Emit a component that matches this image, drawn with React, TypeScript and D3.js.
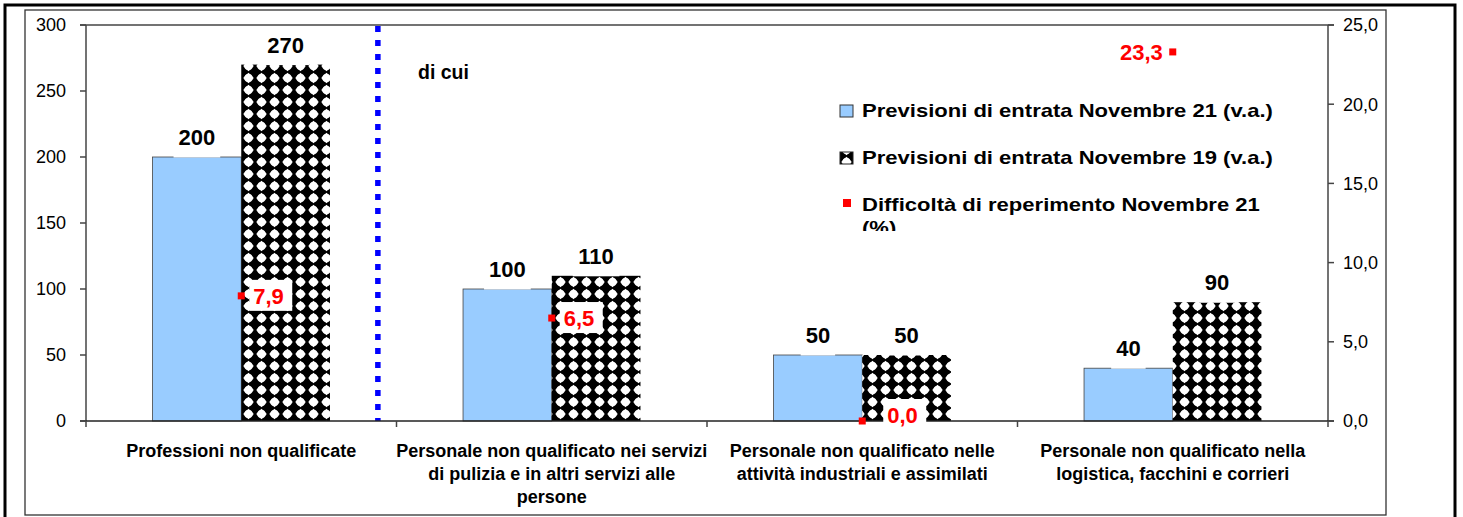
import React from "react";
import * as d3 from "d3";

const categories: string[][] = [
  ["Professioni non qualificate"],
  ["Personale non qualificato nei servizi", "di pulizia e in altri servizi alle", "persone"],
  ["Personale non qualificato nelle", "attività industriali e assimilati"],
  ["Personale non qualificato nella", "logistica, facchini e corrieri"],
];
const nov21: number[] = [200, 100, 50, 40];
const nov19: number[] = [270, 110, 50, 90];
const difficolta: number[] = [7.9, 6.5, 0.0, 23.3];
const leftTicks: number[] = [0, 50, 100, 150, 200, 250, 300];
const rightTicks: number[] = [0, 5, 10, 15, 20, 25];
const legendLabels: string[] = [
  "Previsioni di entrata Novembre 21 (v.a.)",
  "Previsioni di entrata Novembre 19 (v.a.)",
  "Difficoltà di reperimento Novembre 21",
  "(%)",
];

const W = 1463;
const H = 517;
const PL = 86, PR = 1328, PT = 25, PB = 421;
const FONT = "'Liberation Sans', Arial, Helvetica, sans-serif";
const BLUE = "#99CCFF";
const RED = "#FF0000";
const fmt = (v: number) => v.toFixed(1).replace(".", ",");

export default function App() {
  const idx = categories.map((_, i) => String(i));
  const x = d3.scaleBand<string>().domain(idx).range([PL, PR]).paddingInner(0).paddingOuter(0);
  const yL = d3.scaleLinear().domain([0, 300]).range([PB, PT]);
  const yR = d3.scaleLinear().domain([0, 25]).range([PB, PT]);
  const bw = x.bandwidth();
  const barW = bw / 3.5;
  const off = (bw * 0.75) / 3.5;
  const dividerX = (x("1") as number) - bw * 0.06;

  const valueLabel = (v: number, cx: number, key: string) => {
    const top = yL(v);
    const tw = String(v).length * 0.556 * 22;
    return (
      <g key={key}>
        <rect x={cx - tw / 2 - 5} y={top - 32} width={tw + 10} height={32.5} fill="#fff" />
        <text x={cx} y={top - 12} textAnchor="middle" fontSize={22} fontWeight="bold" fill="#000">
          {v}
        </text>
      </g>
    );
  };

  return (
    <svg
      width={W}
      height={H}
      style={{ position: "absolute", left: 0, top: 0, background: "#fff" }}
      fontFamily={FONT}
    >
      <defs>
        <pattern id="dots" patternUnits="userSpaceOnUse" width={13} height={12} x={PL} y={0}>
          <rect width={13} height={12} fill="#000" />
          <circle cx={6.5} cy={6} r={4.3} fill="#fff" />
          <path d="M6.5,0.8 L11.8,6 L6.5,11.2 L1.2,6 Z" fill="#fff" />
        </pattern>
        <clipPath id="legclip">
          <rect x={830} y={90} width={470} height={141} />
        </clipPath>
      </defs>

      <rect x={5} y={5} width={1450} height={520} fill="none" stroke="#000" strokeWidth={3} />
      <rect x={25} y={10} width={1361} height={505} fill="none" stroke="#333" strokeWidth={1.3} />

      {/* bars */}
      {idx.map((k, i) => {
        const x0 = (x(k) as number) + off;
        return (
          <g key={"b" + k}>
            <rect x={x0} y={yL(nov21[i])} width={barW} height={PB - yL(nov21[i])} fill={BLUE} stroke="#444" strokeWidth={0.8} />
            <rect x={x0 + barW} y={yL(nov19[i])} width={barW} height={PB - yL(nov19[i])} fill="url(#dots)" />
          </g>
        );
      })}

      {/* value labels */}
      {idx.map((k, i) => {
        const x0 = (x(k) as number) + off;
        return (
          <g key={"v" + k}>
            {valueLabel(nov21[i], x0 + barW / 2, "a" + k)}
            {valueLabel(nov19[i], x0 + barW * 1.5, "c" + k)}
          </g>
        );
      })}

      {/* divider */}
      <line x1={dividerX} x2={dividerX} y1={PT + 1} y2={PB} stroke="#0000FF" strokeWidth={5.5} strokeDasharray="6 8" />
      <text x={418} y={79} fontSize={19.5} fontWeight="bold" fill="#000">di cui</text>

      {/* plot frame / axes */}
      <line x1={PL - 6} x2={PR + 6} y1={PT} y2={PT} stroke="#444" strokeWidth={1.5} />
      <line x1={PL} x2={PL} y1={PT} y2={PB} stroke="#444" strokeWidth={1.5} />
      <line x1={PR} x2={PR} y1={PT} y2={PB} stroke="#444" strokeWidth={1.5} />
      <line x1={PL - 6} x2={PR + 6} y1={PB} y2={PB} stroke="#222" strokeWidth={1.5} />
      {leftTicks.map((t) => (
        <g key={"l" + t}>
          <line x1={PL - 6} x2={PL} y1={yL(t)} y2={yL(t)} stroke="#444" strokeWidth={1.5} />
          <text x={66} y={yL(t)} dy="0.35em" textAnchor="end" fontSize={18} fill="#000">{t}</text>
        </g>
      ))}
      {rightTicks.map((t) => (
        <g key={"r" + t}>
          <line x1={PR} x2={PR + 6} y1={yR(t)} y2={yR(t)} stroke="#444" strokeWidth={1.5} />
          <text x={1343} y={yR(t)} dy="0.35em" textAnchor="start" fontSize={18} fill="#000">{fmt(t)}</text>
        </g>
      ))}
      {[...idx.map((k) => x(k) as number), PR].map((bx, j) => (
        <line key={"ct" + j} x1={bx} x2={bx} y1={PB} y2={PB + 6} stroke="#444" strokeWidth={1.5} />
      ))}
      {idx.map((k, i) => (
        <text key={"cl" + k} textAnchor="middle" fontSize={18} fontWeight="bold" fill="#000">
          {categories[i].map((line, j) => (
            <tspan key={j} x={(x(k) as number) + bw / 2} y={457 + j * 23}>{line}</tspan>
          ))}
        </text>
      ))}

      {/* difficolta points */}
      {idx.map((k, i) => {
        const px = (x(k) as number) + bw / 2;
        const py = yR(difficolta[i]);
        const label = fmt(difficolta[i]);
        const tw = label.length * 0.53 * 22;
        const left = i === idx.length - 1;
        const atZero = difficolta[i] === 0;
        const ly = Math.min(py, PB - 6);
        const tx = left ? px - 10 : px + (atZero ? 25 : 12);
        const bx = left ? tx - tw - 4 : tx - 4;
        return (
          <g key={"p" + k}>
            <rect x={bx} y={ly - 16} width={tw + 8} height={31} fill="#fff" />
            <text x={tx} y={ly} dy="0.36em" textAnchor={left ? "end" : "start"} fontSize={22} fontWeight="bold" fill={RED}>
              {label}
            </text>
            <rect x={px - 3.5} y={py - 3.5} width={7} height={7} fill={RED} />
          </g>
        );
      })}

      {/* legend */}
      <g clipPath="url(#legclip)">
        <rect x={840} y={105} width={13} height={12} fill={BLUE} stroke="#333" strokeWidth={1} />
        <rect x={840} y={152} width={13} height={12} fill="url(#dots)" stroke="#222" strokeWidth={1} />
        <rect x={843} y={199} width={8} height={8} fill={RED} />
        <g transform="translate(862,0) scale(1.16,1)">
          {legendLabels.map((l, j) => (
            <text key={"lg" + j} x={0} y={[117, 164, 211, 234][j]} fontSize={19} fontWeight="bold" fill="#000">
              {l}
            </text>
          ))}
        </g>
      </g>
    </svg>
  );
}
